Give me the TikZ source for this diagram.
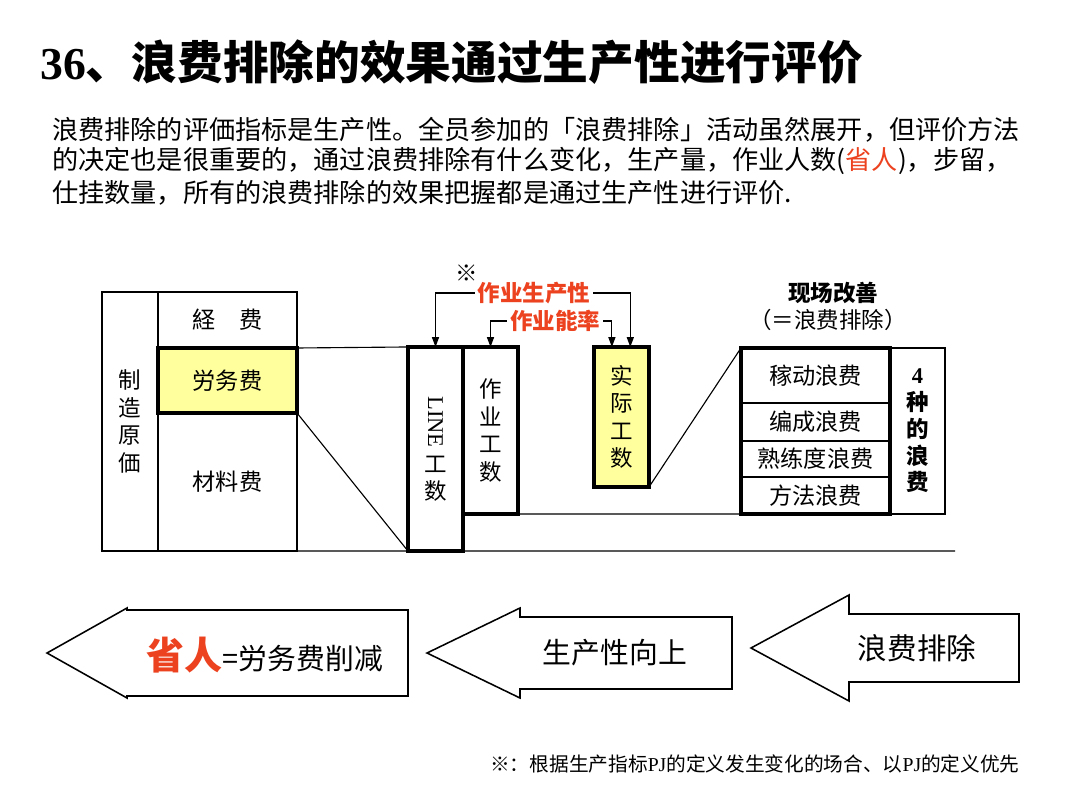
\documentclass[tikz,border=0pt]{standalone}
\usepackage{fontspec}
\newfontfamily\cjk{Noto Sans CJK SC}
\newfontfamily\lat{Liberation Serif}
\usetikzlibrary{arrows.meta}
\definecolor{hired}{RGB}{236,66,32}
\definecolor{lightyel}{RGB}{255,255,158}

\begin{document}
\begin{tikzpicture}[x=0.025cm, y=-0.025cm,
      box/.style={draw, line width=0.8pt, inner sep=0pt, outer sep=0pt, align=center,
                  font=\cjk\fontsize{16.5}{20}\selectfont},
      hbox/.style={box, line width=2.8pt},
      vtxt/.style={font=\cjk\fontsize{16}{19.5}\selectfont},
      txt/.style={font=\cjk\fontsize{18.6}{22}\selectfont, anchor=west, inner sep=0pt},
      rlbl/.style={font=\cjk\bfseries\fontsize{16}{19}\selectfont, text=hired, inner sep=2pt},
      lbl/.style={font=\cjk\fontsize{16}{19}\selectfont, inner sep=1pt},
      arr/.style={-{Triangle[length=7pt,width=5pt]}, line width=0.8pt},
      bigarr/.style={draw, line width=1.1pt, fill=white, line join=miter}]

    \useasboundingbox (0,0) rectangle (1080,796);

    % ===== Title and text =====
    \node[anchor=west, inner sep=0pt, font=\cjk\bfseries\fontsize{32.5}{38}\selectfont] (ttl)
        at (40,62) {{\lat 36}、浪费排除的效果通过生产性进行评价};
    \node[txt] (p1) at (52,130) {浪费排除的评価指标是生产性。全员参加的「浪费排除」活动虽然展开，但评价方法};
    \node[txt] (p2) at (52,161) {的决定也是很重要的，通过浪费排除有什么变化，生产量，作业人数({\color{hired}省人})，步留，};
    \node[txt] (p3) at (52,193) {仕挂数量，所有的浪费排除的效果把握都是通过生产性进行评价.};

    % ===== (a) Cost table =====
    \node[box, vtxt, minimum width=1.4cm, minimum height=6.475cm] (zz) at (130,421.5) {制\\造\\原\\価};
    \node[box, minimum width=3.475cm, minimum height=1.4cm] (jf) at (227.5,320) {経　费};
    \node[box, minimum width=3.475cm, minimum height=3.45cm] (cl) at (227.5,482) {材料费};
    \node[hbox, fill=lightyel, minimum width=3.475cm, minimum height=1.625cm] (lw) at (227.5,380.5) {労务费};

    % ===== (b) Man-hour boxes =====
    \node[hbox, vtxt, minimum width=1.375cm, minimum height=5.1cm] (line) at (435.5,449)
        {\rotatebox{-90}{\lat\fontsize{16}{19}\selectfont LINE}\\[5pt]工\\数};
    \node[hbox, vtxt, minimum width=1.375cm, minimum height=4.175cm] (zy) at (490.5,430.5) {作\\业\\工\\数};
    \node[hbox, vtxt, fill=lightyel, minimum width=1.375cm, minimum height=3.5cm] (sj) at (621.5,417) {实\\际\\工\\数};

    % ===== (c) Four kinds of waste =====
    \foreach \nm/\yy/\hh/\txt in {w1/375.5/1.375/稼动浪费, w2/422/0.95/编成浪费,
                                  w3/459/0.9/熟练度浪费, w4/495.5/0.925/方法浪费} {
        \node[box, minimum width=3.725cm, minimum height=\hh cm] (\nm) at (815.5,\yy) {\txt};
    }
    \node[box, font=\cjk\bfseries\fontsize{16}{19}\selectfont, minimum width=1.375cm,
          minimum height=4.15cm] (kind) at (917.5,431) {{\lat 4}\\种\\的\\浪\\费};
    \node[hbox, minimum width=3.725cm, minimum height=4.15cm] (wb) at (815.5,431) {};
    \node[lbl, font=\cjk\bfseries\fontsize{16}{19}\selectfont] (site) at (833,293) {现场改善};
    \node[lbl] (site2) at (828,320) {（＝浪费排除）};

    % ===== Connecting lines =====
    \coordinate (baseR) at (955,551);
    \draw[line width=0.8pt] (lw.north east) -- (line.north west);
    \draw[line width=0.8pt] (lw.south east) -- (line.south west);
    \draw[line width=0.8pt] (zz.south west) -- (baseR);
    \draw[line width=0.8pt] (zy.south east) -- (kind.south east);
    \draw[line width=0.8pt] (sj.south east) -- (wb.north west);

    % ===== Measures =====
    \node[lbl] (mark) at (467,273) {※};
    \node[rlbl] (prod) at (534,293) {作业生产性};
    \node[rlbl] (eff) at (555,321) {作业能率};
    \draw[arr] (prod.west) -| (line.north);
    \draw[arr] (prod.east) -| ([xshift=0.22cm]sj.north);
    \draw[arr] (eff.west) -| (zy.north);
    \draw[arr] (eff.east) -| ([xshift=-0.24cm]sj.north);

    % ===== Flow arrows =====
    \foreach \tx/\hx/\rx/\cy/\hh/\sh in {47/127/408/653/45/43,
                                         427/520/732/653/45/36,
                                         751/849/1019/648/53/34} {
        \draw[bigarr] (\tx,\cy) -- (\hx,\cy-\hh) -- (\hx,\cy-\sh) -- (\rx,\cy-\sh)
            -- (\rx,\cy+\sh) -- (\hx,\cy+\sh) -- (\hx,\cy+\hh) -- cycle;
    }
    \node[font=\cjk\fontsize{20.5}{24}\selectfont] (cut) at (265,655)
        {{\bfseries\fontsize{27}{30}\selectfont\color{hired}省人}=労务费削减};
    \node[font=\cjk\fontsize{20.5}{24}\selectfont] (up) at (615,653) {生产性向上};
    \node[font=\cjk\fontsize{21}{24}\selectfont] (elim) at (917,648) {浪费排除};

    % ===== Footnote =====
    \node[anchor=west, inner sep=0pt, font=\cjk\fontsize{14}{17}\selectfont] (note)
        at (490,764) {※：根据生产指标{\lat PJ}的定义发生变化的场合、以{\lat PJ}的定义优先};

\end{tikzpicture}
\end{document}
